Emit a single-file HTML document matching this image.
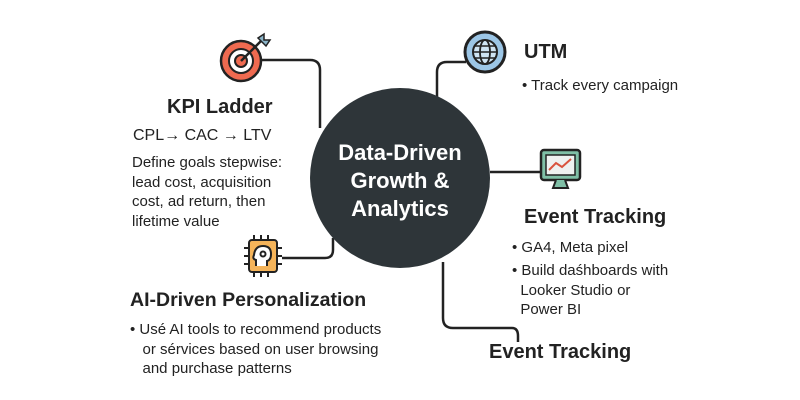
<!DOCTYPE html>
<html><head><meta charset="utf-8"><style>
body{margin:0;width:800px;height:400px;background:#fff;overflow:hidden;font-family:"Liberation Sans",sans-serif;color:#222}
.t{position:absolute;white-space:nowrap}
.h{font-weight:bold;font-size:20px;color:#222}
.b{font-size:15px;line-height:19.5px}
</style></head><body>
<svg width="800" height="400" style="position:absolute;left:0;top:0">
<g fill="none" stroke="#222" stroke-width="2.5">
<path d="M262 60 H310 Q320 60 320 70 V128"/>
<path d="M437 110 V72 Q437 62 447 62 H466"/>
<path d="M490 172 H540"/>
<path d="M282 258 H325 Q333 258 333 250 V238"/>
<path d="M443 262 V318 Q443 328 453 328 H512 Q518 328 518 336 V342"/>
</g>
<circle cx="400" cy="178" r="90" fill="#2e3539"/>
<text x="400" y="160" fill="#fff" font-size="22" font-weight="bold" text-anchor="middle" font-family="Liberation Sans">Data-Driven</text>
<text x="400" y="188" fill="#fff" font-size="22" font-weight="bold" text-anchor="middle" font-family="Liberation Sans">Growth &amp;</text>
<text x="400" y="216" fill="#fff" font-size="22" font-weight="bold" text-anchor="middle" font-family="Liberation Sans">Analytics</text>
<circle cx="241" cy="61" r="20" fill="#ef6a50" stroke="#222" stroke-width="2.5"/>
<circle cx="241" cy="61" r="12" fill="#fff" stroke="#222" stroke-width="2"/>
<circle cx="241" cy="61" r="6" fill="#ef6a50" stroke="#222" stroke-width="2"/>
<path d="M241 61 L262 40" stroke="#222" stroke-width="2.5"/>
<path d="M258 38 l6 -4 l0 6 l6 0 l-4 6 z" fill="#8ab4c8" stroke="#222" stroke-width="1.5"/>
<circle cx="485" cy="52" r="20" fill="#9cc6e6" stroke="#222" stroke-width="3"/>
<circle cx="485" cy="52" r="12" fill="#cfe4f3" stroke="#222" stroke-width="2"/>
<ellipse cx="485" cy="52" rx="5" ry="12" fill="none" stroke="#222" stroke-width="1.8"/>
<path d="M473 52 H497 M475 46 H495 M475 58 H495" stroke="#222" stroke-width="1.5"/>
<rect x="541" y="150" width="39" height="30" rx="3" fill="#7fbfa6" stroke="#222" stroke-width="2.5"/>
<rect x="546" y="155" width="29" height="20" fill="#eef1f0" stroke="#222" stroke-width="1.5"/>
<path d="M549 170 L556 163 L562 167 L571 159" fill="none" stroke="#d9533d" stroke-width="2"/>
<path d="M556 180 L553 188 H568 L565 180" fill="#7fbfa6" stroke="#222" stroke-width="2"/>
<g stroke="#222" stroke-width="2" fill="#f5b45a">
<rect x="249" y="240" width="28" height="32" rx="3"/>
<path d="M254 240 v-5 M261 240 v-5 M268 240 v-5 M254 272 v5 M261 272 v5 M268 272 v5 M249 248 h-5 M249 256 h-5 M249 264 h-5 M277 248 h5 M277 256 h5 M277 264 h5" fill="none"/>
<path d="M256 266 v-6 q-4 -1 -2 -5 q1 -9 9 -9 q8 0 8 8 q0 6 -4 7 v5" fill="#fff"/>
<circle cx="263" cy="254" r="2.5" fill="none"/>
</g>
</svg>
<div class="t h" style="left:167px;top:96px">KPI Ladder</div>
<div class="t" style="left:133px;top:127px;font-size:16px">CPL→ CAC → LTV</div>
<div class="t b" style="left:132px;top:153px">Define goals stepwise:<br>lead cost, acquisition<br>cost, ad return, then<br>lifetime value</div>
<div class="t h" style="left:524px;top:41px">UTM</div>
<div class="t b" style="left:522px;top:76px">• Track every campaign</div>
<div class="t h" style="left:524px;top:206px">Event Tracking</div>
<div class="t b" style="left:512px;top:238px">• GA4, Meta pixel</div>
<div class="t b" style="left:512px;top:261px">• Build daśhboards with<br>&nbsp;&nbsp;Looker Studio or<br>&nbsp;&nbsp;Power BI</div>
<div class="t h" style="left:489px;top:341px">Event Tracking</div>
<div class="t h" style="left:130px;top:289px;font-size:19.5px">AI-Driven Personalization</div>
<div class="t b" style="left:130px;top:320px">• Usé AI tools to recommend products<br>&nbsp;&nbsp;&nbsp;or sérvices based on user browsing<br>&nbsp;&nbsp;&nbsp;and purchase patterns</div>
</body></html>
